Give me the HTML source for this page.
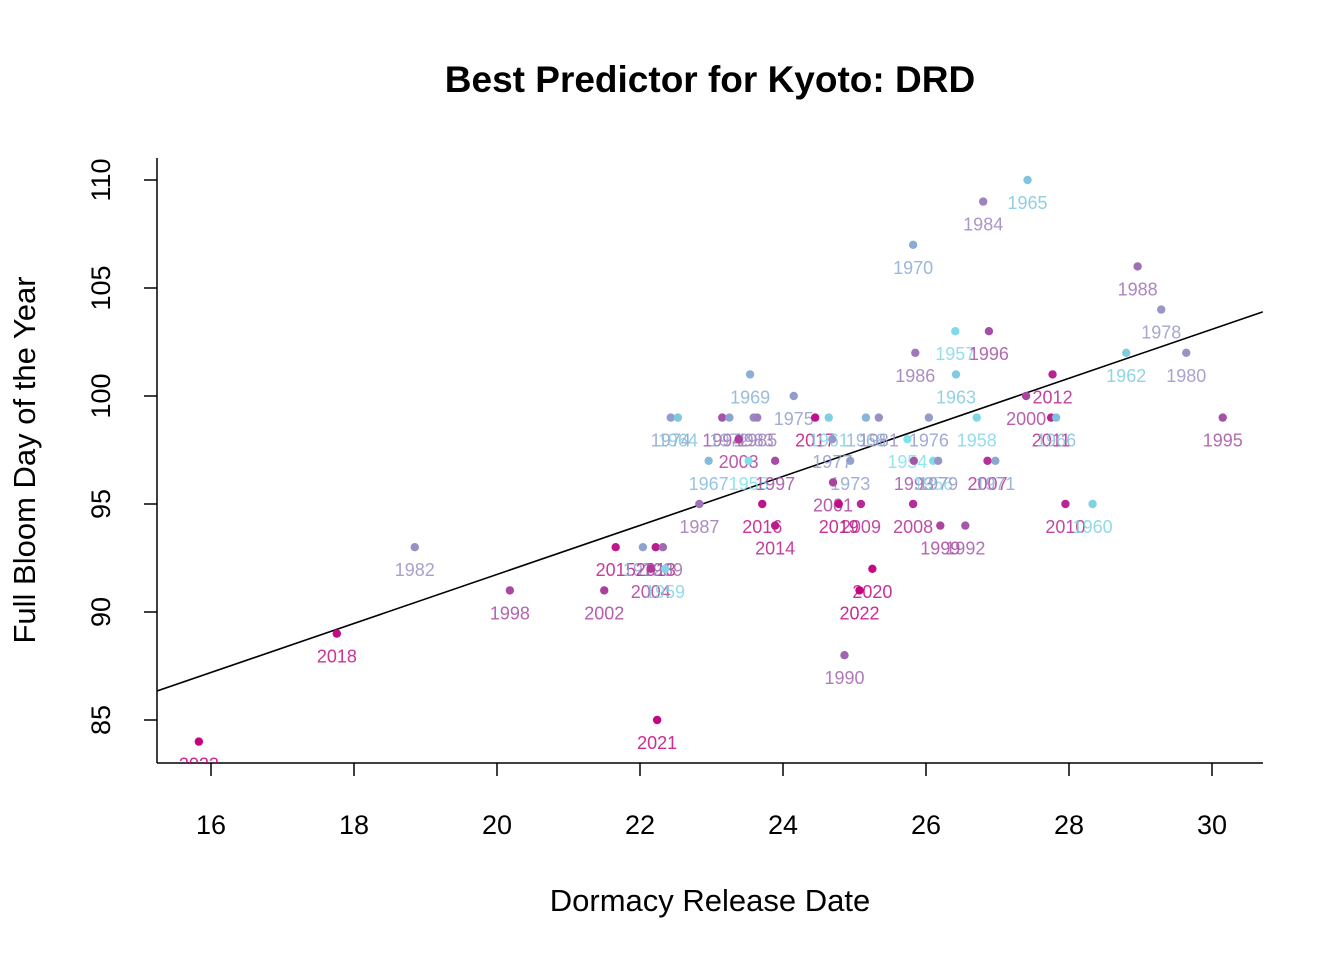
<!DOCTYPE html>
<html><head><meta charset="utf-8"><style>
body{margin:0;background:#fff}
svg{display:block;font-family:"Liberation Sans",Arial,sans-serif}
</style></head><body>
<svg id="chart" width="1344" height="960" viewBox="0 0 1344 960">
<text x="710" y="92" text-anchor="middle" font-size="37" font-weight="bold">Best Predictor for Kyoto: DRD</text>
<text x="710" y="911" text-anchor="middle" font-size="31">Dormacy Release Date</text>
<text transform="translate(35,460) rotate(-90)" text-anchor="middle" font-size="31">Full Bloom Day of the Year</text>
<g id="axes"></g>
<g id="marks"></g>
</svg>
<script>
const years=[2023,2018,1982,1998,2002,2015,1972,2013,1989,2004,1959,2021,1987,1967,1974,1964,1994,1972,1983,1985,2003,1955,1997,2016,2014,1969,1975,2017,1961,1968,1981,1976,1958,1977,1973,2001,2019,2009,1990,2020,2022,1970,1984,1965,1986,1957,1996,1963,1954,1993,1956,1979,2008,1999,1992,2007,1971,2000,2012,2011,1966,2010,1960,1962,1988,1978,1980,1995];
const drd=[15.83,17.76,18.85,20.18,21.5,21.66,22.04,22.22,22.32,22.15,22.35,22.24,22.83,22.96,22.43,22.53,23.15,23.25,23.59,23.64,23.38,23.52,23.89,23.71,23.89,23.54,24.15,24.45,24.64,25.16,25.34,26.04,26.71,24.69,24.94,24.7,24.78,25.09,24.86,25.25,25.07,25.82,26.8,27.42,25.85,26.41,26.88,26.42,25.74,25.83,26.1,26.17,25.82,26.2,26.55,26.86,26.97,27.4,27.77,27.75,27.82,27.95,28.33,28.8,28.96,29.29,29.64,30.15];
const bloom=[84,89,93,91,91,93,93,93,93,92,92,85,95,97,99,99,99,99,99,99,98,97,97,95,94,101,100,99,99,99,99,99,99,98,97,96,95,95,88,92,91,107,109,110,102,103,103,101,98,97,97,97,95,94,94,97,97,100,101,99,99,95,95,102,106,104,102,99];
const fitCoef=[69.04,1.135];
const xTicks=[16,18,20,22,24,26,28,30];
const yTicks=[85,90,95,100,105,110];
const NS="http://www.w3.org/2000/svg";
const X=v=>211+(v-16)*71.5, Y=v=>180+(110-v)*21.6;
function mk(tag,attrs,parent){const e=document.createElementNS(NS,tag);for(const k in attrs)e.setAttribute(k,attrs[k]);parent.appendChild(e);return e;}
const stops=[[1954,[126,227,234]],[1965,[128,196,222]],[1972,[142,163,207]],[1982,[155,142,196]],[1992,[162,90,168]],[2005,[176,54,154]],[2023,[199,0,128]]];
function col(y){for(let i=0;i<stops.length-1;i++){const[a,ca]=stops[i],[b,cb]=stops[i+1];if(y<=b){const t=Math.max(0,(y-a)/(b-a));return'rgb('+ca.map((c,j)=>Math.round(c+(cb[j]-c)*t)).join(',')+')';}}return'rgb(199,0,128)';}
const ax=document.getElementById('axes'),mg=document.getElementById('marks');
let e=mk('line',{x1:157,y1:158,x2:157,y2:763,stroke:'#000','stroke-width':1.5},ax);

e=mk('line',{x1:157,y1:763,x2:1263,y2:763,stroke:'#000','stroke-width':1.5},ax);

xTicks.forEach(t=>{const l=mk('line',{x1:X(t),y1:763,x2:X(t),y2:776,stroke:'#000','stroke-width':1.5},ax);

const tx=mk('text',{x:X(t),y:834,'text-anchor':'middle','font-size':27},ax);tx.textContent=t;
});
yTicks.forEach(t=>{const l=mk('line',{x1:144,y1:Y(t),x2:157,y2:Y(t),stroke:'#000','stroke-width':1.5},ax);

const tx=mk('text',{transform:'translate(110,'+Y(t)+') rotate(-90)','text-anchor':'middle','font-size':27},ax);tx.textContent=t;
});
const cp=mk('clipPath',{id:'cp'},mg);mk('rect',{x:157,y:158,width:1106,height:605},cp);
const gl=mk('g',{'clip-path':'url(#cp)'},mg);
const x0=15.245,x1=30.71;
e=mk('line',{x1:X(x0),y1:Y(fitCoef[0]+fitCoef[1]*x0),x2:X(x1),y2:Y(fitCoef[0]+fitCoef[1]*x1),stroke:'#000','stroke-width':1.6},gl);

years.forEach((yr,i)=>{const c=col(yr);
const p=mk('circle',{cx:X(drd[i]),cy:Y(bloom[i]),r:4.2,fill:c},gl);

const t=mk('text',{x:X(drd[i]),y:Y(bloom[i])+29,'text-anchor':'middle','font-size':18,fill:c,'fill-opacity':0.85},gl);t.textContent=yr;
});
</script>
</body></html>
